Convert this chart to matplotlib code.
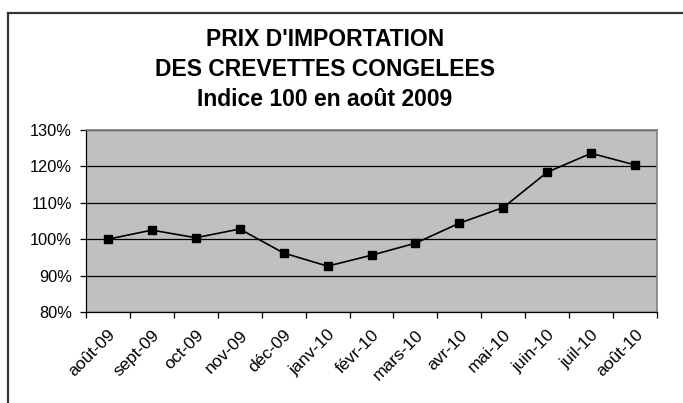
"""
Prix d'importation des crevettes congelees, indice 100 en aout 2009.
Excel-style line chart: grey plot area, black gridlines, square markers.
"""
import matplotlib
matplotlib.use("Agg")
import matplotlib.pyplot as plt
from matplotlib.lines import Line2D
from matplotlib.ticker import FixedLocator

plt.rcParams["font.family"] = ["Liberation Sans", "DejaVu Sans"]

months = ["août-09", "sept-09", "oct-09", "nov-09", "déc-09", "janv-10",
          "févr-10", "mars-10", "avr-10", "mai-10", "juin-10", "juil-10",
          "août-10"]
index_pct = [100.0, 102.5, 100.4, 102.8, 96.2, 92.6,
             95.6, 98.9, 104.4, 108.7, 118.4, 123.6, 120.4]
y_ticks = [80, 90, 100, 110, 120, 130]
title_lines = ["PRIX D'IMPORTATION", "DES CREVETTES CONGELEES",
               "Indice 100 en août 2009"]

W, H, DPI = 683, 403, 100
fig = plt.figure(figsize=(W / DPI, H / DPI), dpi=DPI)
fig.patch.set_facecolor("white")

# outer chart frame (only top and left edges fall inside the image)
fig.add_artist(Line2D([8 / W, 8 / W], [0, 1 - 13 / H], transform=fig.transFigure,
                      color="#333333", lw=1.6))
fig.add_artist(Line2D([8 / W, 1], [1 - 13 / H, 1 - 13 / H], transform=fig.transFigure,
                      color="#333333", lw=1.6))

# title
for line, ypix in zip(title_lines, [39, 70, 100]):
    fig.text(325 / W, 1 - ypix / H, line, ha="center", va="center",
             fontsize=16.5, fontweight="bold", color="black")

left, right, top, bottom = 86, 657, 130, 312
ax = fig.add_axes([left / W, 1 - bottom / H, (right - left) / W, (bottom - top) / H])
ax.set_facecolor("#C0C0C0")

x = list(range(len(months)))
ax.plot(x, index_pct, color="black", lw=1.2, marker="s", markersize=5.5,
        markerfacecolor="black", markeredgecolor="black", zorder=3)

ax.set_xlim(-0.5, len(months) - 0.5)
ax.set_ylim(y_ticks[0], y_ticks[-1])

ax.set_yticks(y_ticks)
ax.set_yticklabels([f"{v}%" for v in y_ticks], fontsize=11.8)
ax.yaxis.grid(True, color="black", lw=0.9)
ax.set_axisbelow(True)

# labels at category centres, tick marks at category boundaries
ax.set_xticks(x)
ax.set_xticklabels(months, fontsize=12.5, rotation=45, ha="right",
                   rotation_mode="anchor")
ax.tick_params(axis="x", which="major", length=0, pad=11)
ax.xaxis.set_minor_locator(FixedLocator([i - 0.5 for i in range(len(months) + 1)]))
ax.tick_params(axis="x", which="minor", length=4, width=0.9, color="black")
ax.tick_params(axis="y", length=4, width=0.9, color="black", pad=6)

for side in ["left", "bottom"]:
    ax.spines[side].set_color("black")
    ax.spines[side].set_linewidth(0.9)
for side in ["top", "right"]:
    ax.spines[side].set_color("#808080")
    ax.spines[side].set_linewidth(1.2)

fig.savefig("out.png", dpi=DPI)
